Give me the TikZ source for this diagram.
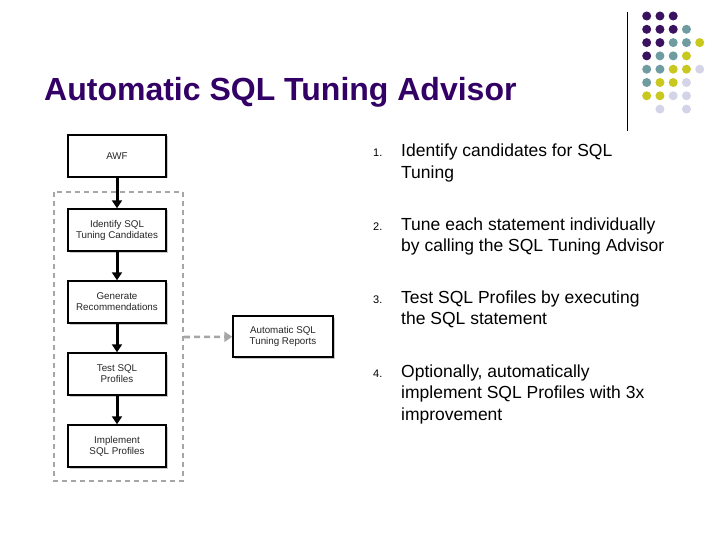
\documentclass[tikz,border=0pt]{standalone}
\usepackage{fontspec}
\setmainfont{Liberation Sans}
\usetikzlibrary{arrows.meta,shadows}
\definecolor{titlec}{HTML}{330066}
\definecolor{dP}{HTML}{3A1260}
\definecolor{dT}{HTML}{6E9CA0}
\definecolor{dY}{HTML}{C8C81E}
\definecolor{dL}{HTML}{D4D4E8}
\definecolor{boxtext}{HTML}{262626}
\newcommand{\lines}[1]{\begin{tabular}[t]{@{}l@{}}#1\end{tabular}}
\tikzset{
  flowbox/.style={draw=black, line width=1.4pt, fill=white, minimum width=98pt, minimum height=42pt,
    align=center, font=\fontsize{9.8}{11}\selectfont, text=boxtext, inner sep=0pt,
    drop shadow={shadow xshift=1.5pt, shadow yshift=-1.5pt, fill=black!35, opacity=0.6}},
  flowarrow/.style={draw=black, line width=3pt, -{Triangle[length=8pt,width=10pt]}},
  grayarrow/.style={draw=black!35, line width=2.6pt, dash pattern=on 6pt off 4pt, -{Triangle[length=8pt,width=10pt]}},
  listnum/.style={anchor=base west, font=\fontsize{11}{13}\selectfont, inner sep=0pt},
  listtext/.style={anchor=base west, font=\fontsize{17.5}{21.5}\selectfont, inner sep=0pt},
  dot/.style={circle, inner sep=0pt, minimum size=9pt}
}
\begin{document}
\begin{tikzpicture}[x=1pt,y=-1pt]
\useasboundingbox (0,0) rectangle (720,540);
% title
\node[anchor=base west, inner sep=0pt, text=titlec, font=\bfseries\fontsize{32}{36}\selectfont] (title) at (44,101) {Automatic SQL Tuning Advisor};
% decoration
\draw[black, line width=0.8pt] (627,12) -- (627,131);
\foreach \row/\cols in {0/{0/dP,1/dP,2/dP},1/{0/dP,1/dP,2/dP,3/dT},2/{0/dP,1/dP,2/dT,3/dT,4/dY},3/{0/dP,1/dT,2/dT,3/dY},4/{0/dT,1/dT,2/dY,3/dY,4/dL},5/{0/dT,1/dY,2/dY,3/dL},6/{0/dY,1/dY,2/dL,3/dL},7/{1/dL,3/dL}}{
  \foreach \c/\col in \cols {
    \node[dot, fill=\col] at ({646.7+13.25*\c},{16+13.3*\row}) {};
  }
}
% dashed group
\draw[black!35, line width=2pt, dash pattern=on 5pt off 4pt] (54,192) rectangle (183,481);
% boxes
\node[flowbox] (awf) at (117,156) {AWF};
\node[flowbox] (ident) at (117,230) {Identify SQL\\Tuning Candidates};
\node[flowbox] (gen) at (117,302) {Generate\\Recommendations};
\node[flowbox] (test) at (117,374) {Test SQL\\Profiles};
\node[flowbox] (impl) at (117,446) {Implement\\SQL Profiles};
\node[flowbox, minimum width=100pt, minimum height=41pt] (rep) at (283,336.5) {Automatic SQL\\Tuning Reports};
\coordinate (grpedge) at (184,337);
\draw[flowarrow] (awf) -- (ident);
\draw[flowarrow] (ident) -- (gen);
\draw[flowarrow] (gen) -- (test);
\draw[flowarrow] (test) -- (impl);
\draw[grayarrow] (grpedge) -- (rep);
% list
\node[listnum] (n1) at (373,157) {1.};
\node[listtext] (t1) at (401,157) {\lines{Identify candidates for SQL\\Tuning}};
\node[listnum] (n2) at (373,230) {2.};
\node[listtext] (t2) at (401,230) {\lines{Tune each statement individually\\by calling the SQL Tuning Advisor}};
\node[listnum] (n3) at (373,303) {3.};
\node[listtext] (t3) at (401,303) {\lines{Test SQL Profiles by executing\\the SQL statement}};
\node[listnum] (n4) at (373,377) {4.};
\node[listtext] (t4) at (401,377) {\lines{Optionally, automatically\\implement SQL Profiles with 3x\\improvement}};
\end{tikzpicture}
\end{document}
